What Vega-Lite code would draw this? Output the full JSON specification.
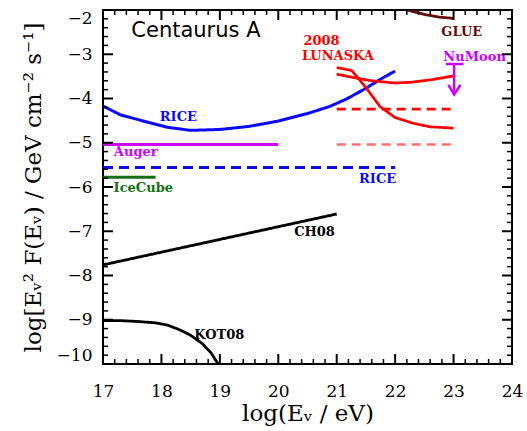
{
  "$schema": "https://vega.github.io/schema/vega-lite/v6.json",
  "width": 409,
  "height": 354,
  "autosize": {"type": "none"},
  "padding": {"left": 103, "top": 10, "right": 15, "bottom": 67},
  "background": "white",
  "config": {
    "view": {"stroke": "black", "strokeWidth": 2},
    "axis": {
      "labelFont": "DejaVu Serif",
      "labelFontSize": 17,
      "labelColor": "black",
      "titleFont": "DejaVu Serif",
      "titleFontSize": 23,
      "titleFontWeight": "normal",
      "titleColor": "black",
      "ticks": false,
      "domain": false,
      "grid": false
    }
  },
  "datasets": {
    "xmajor": [{"v": 17}, {"v": 18}, {"v": 19}, {"v": 20}, {"v": 21}, {"v": 22}, {"v": 23}, {"v": 24}],
    "xminor": [{"v": 17.2}, {"v": 17.4}, {"v": 17.6}, {"v": 17.8}, {"v": 18.2}, {"v": 18.4}, {"v": 18.6}, {"v": 18.8}, {"v": 19.2}, {"v": 19.4}, {"v": 19.6}, {"v": 19.8}, {"v": 20.2}, {"v": 20.4}, {"v": 20.6}, {"v": 20.8}, {"v": 21.2}, {"v": 21.4}, {"v": 21.6}, {"v": 21.8}, {"v": 22.2}, {"v": 22.4}, {"v": 22.6}, {"v": 22.8}, {"v": 23.2}, {"v": 23.4}, {"v": 23.6}, {"v": 23.8}],
    "ymajor": [{"v": -10}, {"v": -9}, {"v": -8}, {"v": -7}, {"v": -6}, {"v": -5}, {"v": -4}, {"v": -3}, {"v": -2}],
    "yminor": [{"v": -9.8}, {"v": -9.6}, {"v": -9.4}, {"v": -9.2}, {"v": -8.8}, {"v": -8.6}, {"v": -8.4}, {"v": -8.2}, {"v": -7.8}, {"v": -7.6}, {"v": -7.4}, {"v": -7.2}, {"v": -6.8}, {"v": -6.6}, {"v": -6.4}, {"v": -6.2}, {"v": -5.8}, {"v": -5.6}, {"v": -5.4}, {"v": -5.2}, {"v": -4.8}, {"v": -4.6}, {"v": -4.4}, {"v": -4.2}, {"v": -3.8}, {"v": -3.6}, {"v": -3.4}, {"v": -3.2}, {"v": -2.8}, {"v": -2.6}, {"v": -2.4}, {"v": -2.2}],
    "lines": [
      {"id": "RICE", "i": 1, "x": 17.0, "y": -4.17},
      {"id": "RICE", "i": 2, "x": 17.3, "y": -4.37},
      {"id": "RICE", "i": 3, "x": 17.75, "y": -4.53},
      {"id": "RICE", "i": 4, "x": 18.1, "y": -4.65},
      {"id": "RICE", "i": 5, "x": 18.5, "y": -4.72},
      {"id": "RICE", "i": 6, "x": 19.0, "y": -4.70},
      {"id": "RICE", "i": 7, "x": 19.5, "y": -4.63},
      {"id": "RICE", "i": 8, "x": 20.0, "y": -4.51},
      {"id": "RICE", "i": 9, "x": 20.5, "y": -4.34},
      {"id": "RICE", "i": 10, "x": 20.88, "y": -4.18},
      {"id": "RICE", "i": 11, "x": 21.17, "y": -4.01},
      {"id": "RICE", "i": 12, "x": 21.5, "y": -3.77},
      {"id": "RICE", "i": 13, "x": 21.74, "y": -3.57},
      {"id": "RICE", "i": 14, "x": 22.0, "y": -3.38},
      {"id": "RICE_lim", "i": 1, "x": 17.0, "y": -5.56},
      {"id": "RICE_lim", "i": 2, "x": 22.0, "y": -5.56},
      {"id": "Auger", "i": 1, "x": 17.0, "y": -5.04},
      {"id": "Auger", "i": 2, "x": 20.0, "y": -5.04},
      {"id": "IceCube", "i": 1, "x": 17.0, "y": -5.78},
      {"id": "IceCube", "i": 2, "x": 17.9, "y": -5.78},
      {"id": "CH08", "i": 1, "x": 17.0, "y": -7.76},
      {"id": "CH08", "i": 2, "x": 21.0, "y": -6.61},
      {"id": "KOT08", "i": 1, "x": 17.0, "y": -9.02},
      {"id": "KOT08", "i": 2, "x": 17.3, "y": -9.02},
      {"id": "KOT08", "i": 3, "x": 17.6, "y": -9.04},
      {"id": "KOT08", "i": 4, "x": 17.9, "y": -9.07},
      {"id": "KOT08", "i": 5, "x": 18.1, "y": -9.12},
      {"id": "KOT08", "i": 6, "x": 18.3, "y": -9.22},
      {"id": "KOT08", "i": 7, "x": 18.5, "y": -9.35},
      {"id": "KOT08", "i": 8, "x": 18.7, "y": -9.54},
      {"id": "KOT08", "i": 9, "x": 18.85, "y": -9.75},
      {"id": "KOT08", "i": 10, "x": 18.97, "y": -10.0},
      {"id": "GLUE", "i": 1, "x": 22.2, "y": -2.0},
      {"id": "GLUE", "i": 2, "x": 22.5, "y": -2.1},
      {"id": "GLUE", "i": 3, "x": 22.75, "y": -2.16},
      {"id": "GLUE", "i": 4, "x": 23.0, "y": -2.19},
      {"id": "LUNASKA", "i": 1, "x": 21.0, "y": -3.45},
      {"id": "LUNASKA", "i": 2, "x": 21.3, "y": -3.53},
      {"id": "LUNASKA", "i": 3, "x": 21.6, "y": -3.60},
      {"id": "LUNASKA", "i": 4, "x": 22.0, "y": -3.65},
      {"id": "LUNASKA", "i": 5, "x": 22.3, "y": -3.63},
      {"id": "LUNASKA", "i": 6, "x": 22.6, "y": -3.58},
      {"id": "LUNASKA", "i": 7, "x": 23.0, "y": -3.49},
      {"id": "LUNASKA_thin", "i": 1, "x": 21.0, "y": -3.30},
      {"id": "LUNASKA_thin", "i": 2, "x": 21.26, "y": -3.37},
      {"id": "LUNASKA_thin", "i": 3, "x": 21.51, "y": -3.77},
      {"id": "LUNASKA_thin", "i": 4, "x": 21.74, "y": -4.18},
      {"id": "LUNASKA_thin", "i": 5, "x": 22.0, "y": -4.43},
      {"id": "LUNASKA_thin", "i": 6, "x": 22.31, "y": -4.56},
      {"id": "LUNASKA_thin", "i": 7, "x": 22.6, "y": -4.64},
      {"id": "LUNASKA_thin", "i": 8, "x": 23.0, "y": -4.67},
      {"id": "LUNASKA_lim", "i": 1, "x": 21.0, "y": -4.24},
      {"id": "LUNASKA_lim", "i": 2, "x": 22.95, "y": -4.24},
      {"id": "LUNASKA_lim2", "i": 1, "x": 21.0, "y": -5.04},
      {"id": "LUNASKA_lim2", "i": 2, "x": 22.95, "y": -5.04},
      {"id": "NuMoon", "i": 1, "x": 22.87, "y": -3.22},
      {"id": "NuMoon", "i": 2, "x": 23.17, "y": -3.22},
      {"id": "NuMoon_stem", "i": 1, "x": 23.01, "y": -3.22},
      {"id": "NuMoon_stem", "i": 2, "x": 23.01, "y": -3.91},
      {"id": "NuMoon_head", "i": 1, "x": 22.91, "y": -3.69},
      {"id": "NuMoon_head", "i": 2, "x": 23.01, "y": -3.91},
      {"id": "NuMoon_head", "i": 3, "x": 23.12, "y": -3.69}
    ],
    "labels": [
      {"id": "Title", "text": "Centaurus A", "x": 18.59, "y": -2.47},
      {"id": "LUNASKA", "text": "2008", "x": 20.74, "y": -2.69},
      {"id": "LUNASKA", "text": "LUNASKA", "x": 21.02, "y": -3.03},
      {"id": "GLUE", "text": "GLUE", "x": 23.14, "y": -2.5},
      {"id": "NuMoon", "text": "NuMoon", "x": 23.36, "y": -3.06},
      {"id": "RICE", "text": "RICE", "x": 18.29, "y": -4.41},
      {"id": "RICE_lim", "text": "RICE", "x": 21.7, "y": -5.82},
      {"id": "Auger", "text": "Auger", "x": 17.56, "y": -5.21},
      {"id": "IceCube", "text": "IceCube", "x": 17.69, "y": -6.02},
      {"id": "CH08", "text": "CH08", "x": 20.62, "y": -7.02},
      {"id": "KOT08", "text": "KOT08", "x": 18.99, "y": -9.34}
    ]
  },
  "layer": [
    {
      "data": {"name": "lines"},
      "mark": {"type": "line", "clip": true, "strokeCap": "butt"},
      "encoding": {
        "x": {
          "field": "x", "type": "quantitative",
          "scale": {"domain": [17, 24], "nice": false, "zero": false},
          "axis": {
            "orient": "bottom",
            "title": "log(Eᵥ   /   eV)",
            "values": [17, 18, 19, 20, 21, 22, 23, 24],
            "format": "d",
            "labelPadding": 19,
            "labelFlush": false,
            "labelOverlap": false,
            "titlePadding": 3
          }
        },
        "y": {
          "field": "y", "type": "quantitative",
          "scale": {"domain": [-10, -2], "nice": false, "zero": false},
          "axis": {
            "orient": "left",
            "title": "log[Eᵥ² F(Eᵥ)   /   GeV cm⁻² s⁻¹]",
            "values": [-10, -9, -8, -7, -6, -5, -4, -3, -2],
            "labelExpr": "replace('' + datum.value, '-', '−')",
            "labelPadding": 11,
            "labelFlush": true,
            "labelFlushOffset": 0,
            "labelOverlap": false,
            "titlePadding": 11
          }
        },
        "detail": {"field": "id"},
        "order": {"field": "i", "type": "quantitative"},
        "color": {
          "field": "id", "type": "nominal", "legend": null,
          "scale": {
            "domain": ["RICE", "RICE_lim", "Auger", "IceCube", "CH08", "KOT08", "GLUE", "LUNASKA", "LUNASKA_thin", "LUNASKA_lim", "LUNASKA_lim2", "NuMoon", "NuMoon_stem", "NuMoon_head", "Title"],
            "range": ["#0a0aff", "#0a0aff", "#cc00ff", "#157015", "#000000", "#000000", "#660a0a", "#ff0000", "#ff0000", "#ff0000", "#ff7070", "#cc00ff", "#cc00ff", "#cc00ff", "#000000"]
          }
        },
        "strokeWidth": {
          "field": "id", "type": "nominal", "legend": null,
          "scale": {
            "domain": ["RICE", "RICE_lim", "Auger", "IceCube", "CH08", "KOT08", "GLUE", "LUNASKA", "LUNASKA_thin", "LUNASKA_lim", "LUNASKA_lim2", "NuMoon", "NuMoon_stem", "NuMoon_head"],
            "range": [3, 2.5, 2.5, 2, 1.3, 1.3, 2.5, 2.5, 1, 2.5, 2, 2, 2, 2]
          }
        },
        "strokeDash": {
          "field": "id", "type": "nominal", "legend": null,
          "scale": {
            "domain": ["RICE", "RICE_lim", "Auger", "IceCube", "CH08", "KOT08", "GLUE", "LUNASKA", "LUNASKA_thin", "LUNASKA_lim", "LUNASKA_lim2", "NuMoon", "NuMoon_stem", "NuMoon_head"],
            "range": [[1, 0], [10, 6], [1, 0], [1, 0], [1, 0], [1, 0], [1, 0], [1, 0], [1, 0], [9, 6], [9, 6], [1, 0], [1, 0], [1, 0]]
          }
        }
      }
    },
    {
      "data": {"name": "labels"},
      "transform": [{"filter": "datum.id !== 'Title'"}],
      "mark": {"type": "text", "font": "DejaVu Serif", "fontWeight": "bold", "fontSize": 13, "align": "center", "baseline": "middle"},
      "encoding": {
        "x": {"field": "x", "type": "quantitative"},
        "y": {"field": "y", "type": "quantitative"},
        "text": {"field": "text", "type": "nominal"},
        "color": {"field": "id", "type": "nominal", "legend": null}
      }
    },
    {
      "data": {"name": "labels"},
      "transform": [{"filter": "datum.id === 'Title'"}],
      "mark": {"type": "text", "font": "DejaVu Sans", "fontSize": 21, "align": "center", "baseline": "middle"},
      "encoding": {
        "x": {"field": "x", "type": "quantitative"},
        "y": {"field": "y", "type": "quantitative"},
        "text": {"field": "text", "type": "nominal"},
        "color": {"field": "id", "type": "nominal", "legend": null}
      }
    },
    {
      "data": {"name": "xmajor"},
      "mark": {"type": "tick", "orient": "vertical", "color": "#000000", "size": 10, "thickness": 2, "opacity": 1, "yOffset": -5},
      "encoding": {"x": {"field": "v", "type": "quantitative"}, "y": {"datum": -10, "type": "quantitative"}}
    },
    {
      "data": {"name": "xmajor"},
      "mark": {"type": "tick", "orient": "vertical", "color": "#000000", "size": 10, "thickness": 2, "opacity": 1, "yOffset": 5},
      "encoding": {"x": {"field": "v", "type": "quantitative"}, "y": {"datum": -2, "type": "quantitative"}}
    },
    {
      "data": {"name": "xminor"},
      "mark": {"type": "tick", "orient": "vertical", "color": "#000000", "size": 5, "thickness": 1.5, "opacity": 1, "yOffset": -2.5},
      "encoding": {"x": {"field": "v", "type": "quantitative"}, "y": {"datum": -10, "type": "quantitative"}}
    },
    {
      "data": {"name": "xminor"},
      "mark": {"type": "tick", "orient": "vertical", "color": "#000000", "size": 5, "thickness": 1.5, "opacity": 1, "yOffset": 2.5},
      "encoding": {"x": {"field": "v", "type": "quantitative"}, "y": {"datum": -2, "type": "quantitative"}}
    },
    {
      "data": {"name": "ymajor"},
      "mark": {"type": "tick", "orient": "horizontal", "color": "#000000", "size": 10, "thickness": 2, "opacity": 1, "xOffset": 5},
      "encoding": {"y": {"field": "v", "type": "quantitative"}, "x": {"datum": 17, "type": "quantitative"}}
    },
    {
      "data": {"name": "ymajor"},
      "mark": {"type": "tick", "orient": "horizontal", "color": "#000000", "size": 10, "thickness": 2, "opacity": 1, "xOffset": -5},
      "encoding": {"y": {"field": "v", "type": "quantitative"}, "x": {"datum": 24, "type": "quantitative"}}
    },
    {
      "data": {"name": "yminor"},
      "mark": {"type": "tick", "orient": "horizontal", "color": "#000000", "size": 5, "thickness": 1.5, "opacity": 1, "xOffset": 2.5},
      "encoding": {"y": {"field": "v", "type": "quantitative"}, "x": {"datum": 17, "type": "quantitative"}}
    },
    {
      "data": {"name": "yminor"},
      "mark": {"type": "tick", "orient": "horizontal", "color": "#000000", "size": 5, "thickness": 1.5, "opacity": 1, "xOffset": -2.5},
      "encoding": {"y": {"field": "v", "type": "quantitative"}, "x": {"datum": 24, "type": "quantitative"}}
    }
  ]
}
